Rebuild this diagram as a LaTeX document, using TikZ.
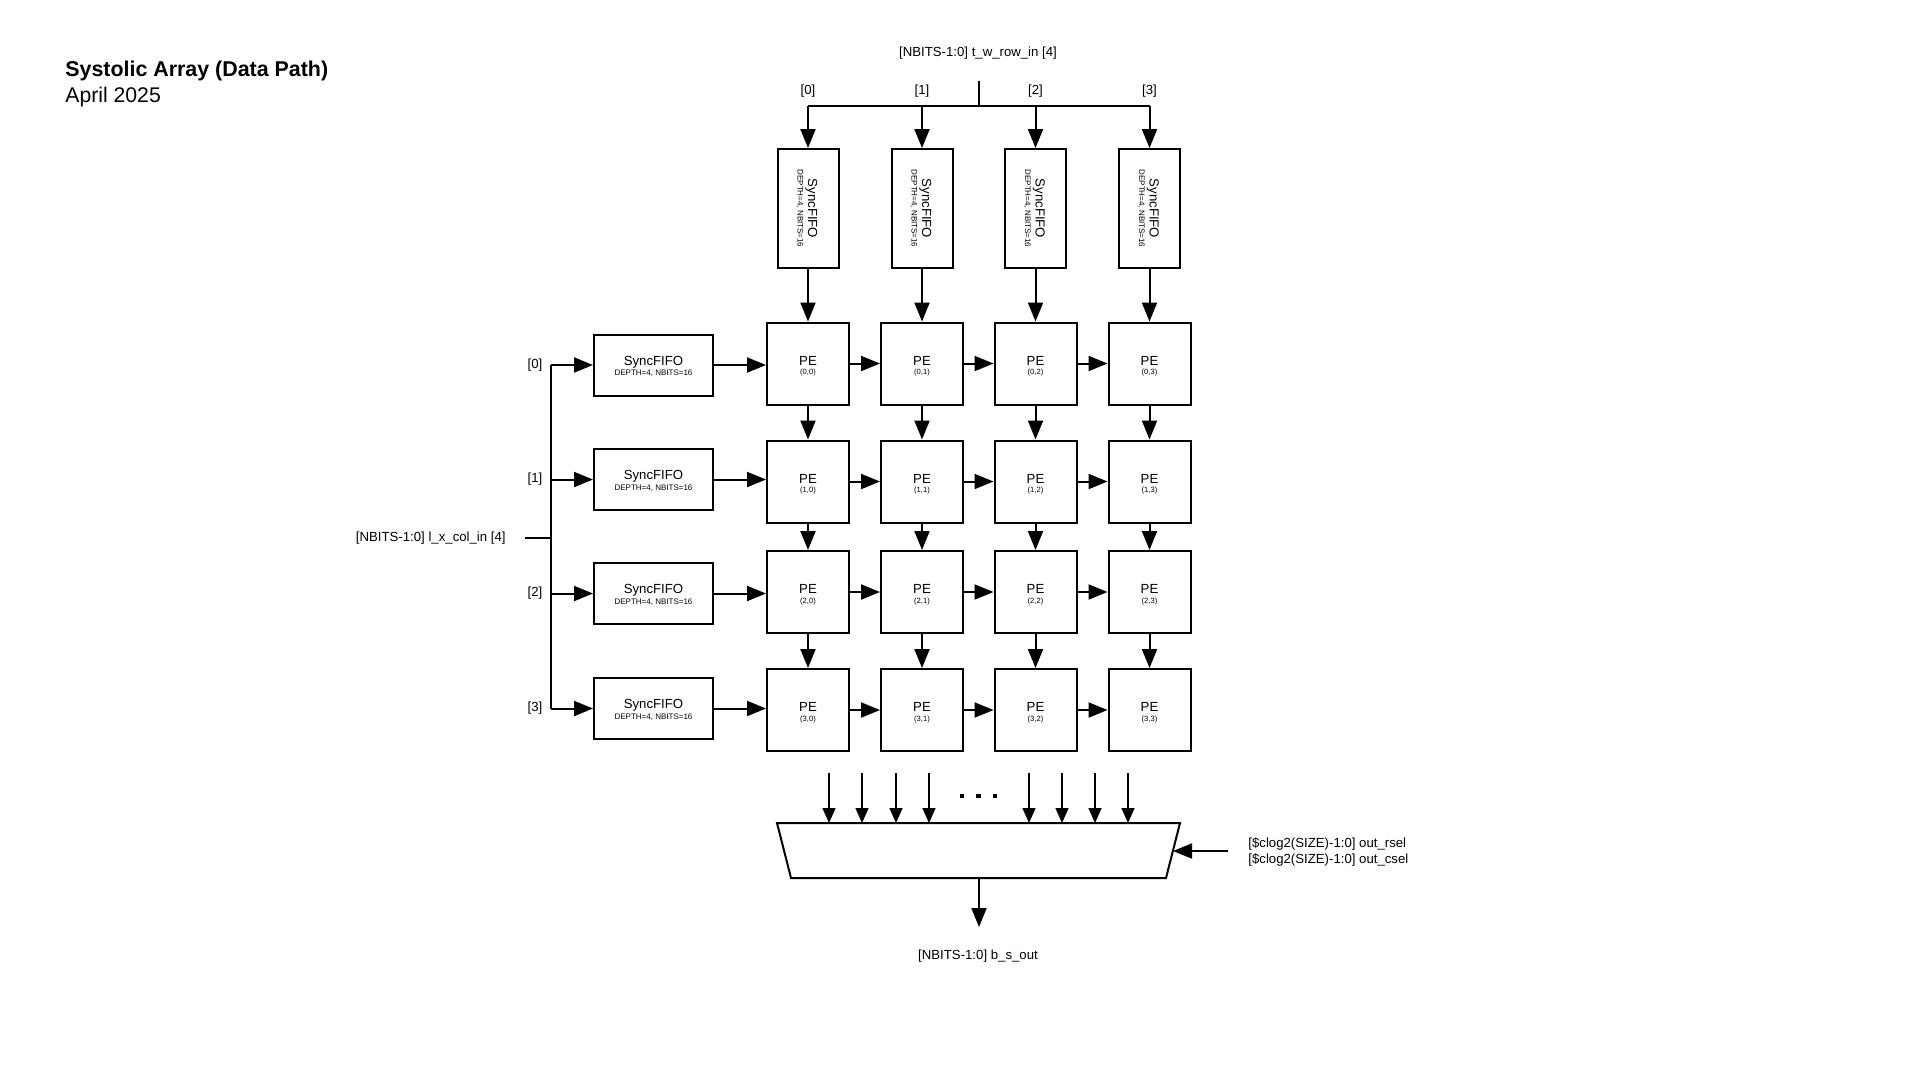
\documentclass[tikz,border=0pt]{standalone}
\usepackage{fontspec}
\setmainfont{Liberation Sans}
\usetikzlibrary{arrows.meta}
\begin{document}
\begin{tikzpicture}[x=0.5pt,y=-0.5pt,
  box/.style={draw, line width=1pt, fill=white, inner sep=0pt},
  pe/.style={box, minimum width=41pt, minimum height=41pt},
  hfifo/.style={box, minimum width=59.5pt, minimum height=30.5pt},
  vfifo/.style={box, minimum width=30.5pt, minimum height=59.5pt},
  bigtxt/.style={font=\fontsize{6.6}{7}\selectfont, inner sep=0pt, anchor=base},
  subtxt/.style={font=\fontsize{4}{5}\selectfont, inner sep=0pt, anchor=base},
  idxtxt/.style={font=\fontsize{3.8}{5}\selectfont, inner sep=0pt, anchor=base},
  sig/.style={font=\fontsize{6.6}{8}\selectfont, inner sep=0pt},
  wire/.style={line width=1pt},
  arr/.style={line width=1pt, -{Triangle[length=9.5pt,width=7.5pt]}},
  thinarr/.style={line width=0.7pt, -{Triangle[length=7.5pt,width=6.5pt]}},
]
\fill[white] (0,0) rectangle (1910,1073);
\useasboundingbox (0,0) rectangle (1910,1073);

% heading
\node[font=\bfseries\fontsize{10.7}{12}\selectfont, inner sep=0pt, anchor=base west] (title) at (65,76) {Systolic Array (Data Path)};
\node[font=\fontsize{10.6}{12}\selectfont, inner sep=0pt, anchor=base west] (date) at (65,102) {April 2025};

% column FIFOs (top)
\foreach \c/\x in {0/808,1/922,2/1035.5,3/1149.5} {
  \node[vfifo] (tf\c) at (\x,208.5) {};
  \node[bigtxt, rotate=-90] (tf\c a) at (tf\c.center) {SyncFIFO};
  \node[subtxt, rotate=-90] (tf\c b) at ([xshift=-5.25pt]tf\c.center) {DEPTH=4, NBITS=16};
}

% row FIFOs (left)
\foreach \r/\y in {0/365,1/479.5,2/593.5,3/708.5} {
  \node[hfifo] (lf\r) at (653.5,\y) {};
  \node[bigtxt] (lf\r a) at (lf\r.center) {SyncFIFO};
  \node[subtxt] (lf\r b) at ([yshift=-5.25pt]lf\r.center) {DEPTH=4, NBITS=16};
}

% PE grid
\foreach \r/\y in {0/363.5,1/481.5,2/592,3/710} {
  \foreach \c/\x in {0/808,1/922,2/1035.5,3/1149.5} {
    \node[pe] (pe\r\c) at (\x,\y) {};
    \node[bigtxt] (pe\r\c a) at ([yshift=-0.75pt]pe\r\c.center) {PE};
    \node[idxtxt] (pe\r\c b) at ([yshift=-5.5pt]pe\r\c.center) {(\r,\c)};
  }
}

% top input bus
\node[sig] (twin) at (978,53) {[NBITS-1:0] t\_w\_row\_in [4]};
\coordinate (tstub) at (979,81);
\coordinate (tbus) at (979,106);
\draw[wire] (tstub) -- (tbus);
\draw[wire] (tf0.north |- tbus) -- (tf3.north |- tbus);
\foreach \c in {0,1,2,3} {
  \draw[arr] (tf\c.north |- tbus) -- (tf\c.north);
  \node[sig] (tl\c) at (tf\c.north |- 0,91) {[\c]};
  \draw[arr] (tf\c.south) -- (pe0\c.north);
}

% left input bus
\node[sig, anchor=east] (lxin) at (506,538) {[NBITS-1:0] l\_x\_col\_in [4]};
\coordinate (lstub) at (525,538);
\coordinate (lbus) at (551,538);
\draw[wire] (lstub) -- (lbus);
\draw[wire] (lbus |- lf0.west) -- (lbus |- lf3.west);
\foreach \r in {0,1,2,3} {
  \draw[arr] (lbus |- lf\r.west) -- (lf\r.west);
  \node[sig] (ll\r) at (535,0 |- lf\r.west) {[\r]};
  \draw[arr] (lf\r.east) -- (pe\r0.west |- lf\r.east);
}

% systolic links
\foreach \r in {0,1,2,3} {
  \draw[arr] (pe\r0.east) -- (pe\r1.west);
  \draw[arr] (pe\r1.east) -- (pe\r2.west);
  \draw[arr] (pe\r2.east) -- (pe\r3.west);
}
\foreach \c in {0,1,2,3} {
  \draw[arr] (pe0\c.south) -- (pe1\c.north);
  \draw[arr] (pe1\c.south) -- (pe2\c.north);
  \draw[arr] (pe2\c.south) -- (pe3\c.north);
}

% output multiplexer
\coordinate (mtl) at (777,823);
\coordinate (mtr) at (1180,823);
\coordinate (mbr) at (1166,878);
\coordinate (mbl) at (791,878);
\draw[line width=1pt, line join=miter] (mtl) -- (mtr) -- (mbr) -- (mbl) -- cycle;
\foreach \i/\x in {1/829,2/862,3/896,4/929,5/1029,6/1062,7/1095,8/1128} {
  \coordinate (min\i) at (\x,773);
  \draw[thinarr] (min\i) -- (min\i |- mtl);
}
\foreach \i/\x in {1/962,2/978.5,3/995} {
  \fill (\x-2.3,796-2.3) rectangle (\x+2.3,796+2.3);
}
\coordinate (selsrc) at (1228,851);
\coordinate (selin) at (1173,851);
\draw[arr] (selsrc) -- (selin);
\node[sig, anchor=west, align=left] (sel) at (1248,852) {[\$clog2(SIZE)-1:0] out\_rsel\\{}[\$clog2(SIZE)-1:0] out\_csel};
\coordinate (mout) at (979,878);
\coordinate (oend) at (979,927);
\draw[arr] (mout) -- (oend);
\node[sig] (bsout) at (978,956) {[NBITS-1:0] b\_s\_out};
\end{tikzpicture}
\end{document}
